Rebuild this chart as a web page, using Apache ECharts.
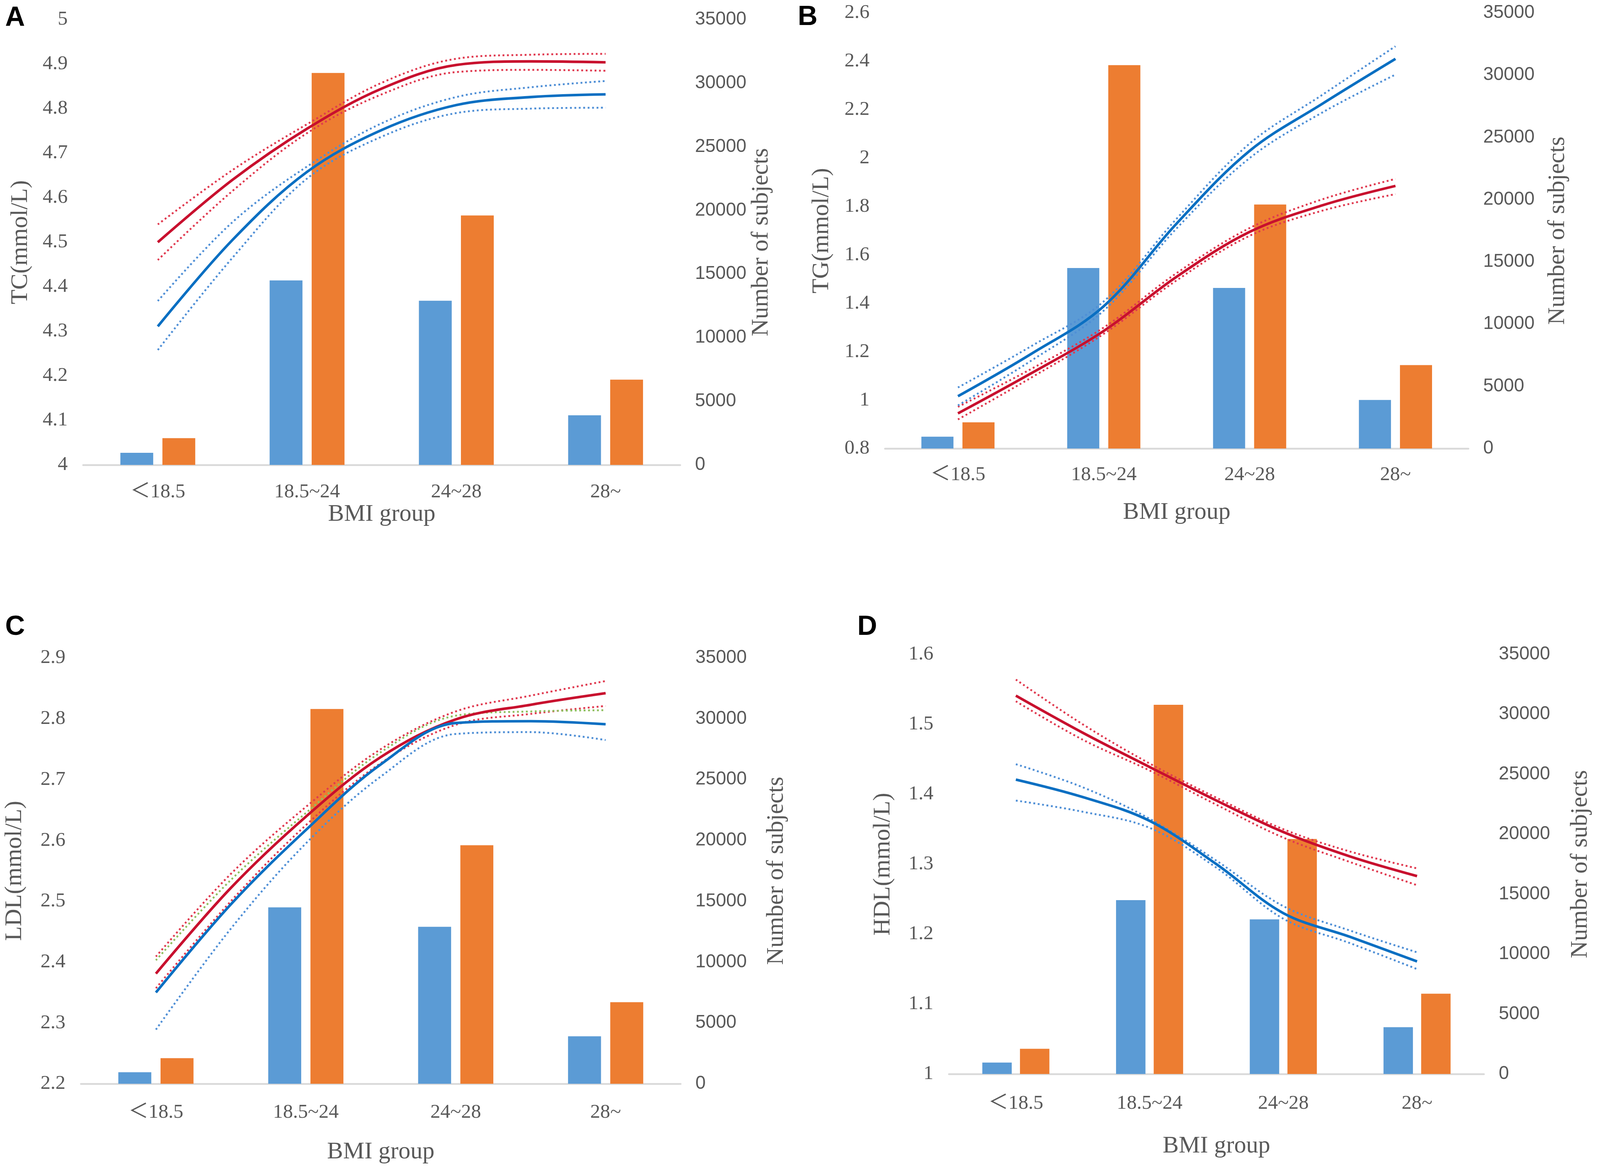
<!DOCTYPE html>
<html>
<head>
<meta charset="utf-8">
<script src="https://cdn.jsdelivr.net/npm/echarts@6/dist/echarts.min.js"></script>
<style>
html,body{margin:0;padding:0;background:#ffffff;overflow:hidden;}
#chart{width:100vw;height:100vh;}
</style>
</head>
<body>
<div id="chart"></div>
<script>
// ---------- data ----------
const categories = ['＜18.5', '18.5~24', '24~28', '28~'];
const subjectsBlue = [950, 14500, 12900, 3900];
const subjectsOrange = [2100, 30800, 19600, 6700];
const rightTicks = [0, 35000, 5000];           // min, max, interval
const curveX = [1, 1.5, 2, 2.5, 3, 3.5, 4];     // positions along BMI group axis

const tcRed        = [4.500, 4.640, 4.755, 4.845, 4.898, 4.906, 4.904];
const tcRedUpper   = [4.540, 4.662, 4.765, 4.858, 4.912, 4.921, 4.923];
const tcRedLower   = [4.460, 4.615, 4.745, 4.832, 4.882, 4.887, 4.885];
const tcBlue       = [4.311, 4.505, 4.658, 4.752, 4.808, 4.826, 4.832];
const tcBlueUpper  = [4.368, 4.545, 4.670, 4.767, 4.826, 4.848, 4.862];
const tcBlueLower  = [4.258, 4.465, 4.643, 4.737, 4.790, 4.800, 4.802];

const tgRed        = [0.945, 1.110, 1.286, 1.510, 1.695, 1.805, 1.885];
const tgRedUpper   = [0.972, 1.128, 1.300, 1.525, 1.711, 1.830, 1.914];
const tgRedLower   = [0.920, 1.092, 1.274, 1.495, 1.679, 1.783, 1.851];
const tgBlue       = [1.016, 1.190, 1.388, 1.730, 2.030, 2.225, 2.410];
const tgBlueUpper  = [1.052, 1.222, 1.408, 1.750, 2.060, 2.262, 2.462];
const tgBlueLower  = [0.978, 1.162, 1.370, 1.710, 2.000, 2.189, 2.345];

const ldlRed       = [2.381, 2.522, 2.639, 2.737, 2.799, 2.823, 2.842];
const ldlRedUpper  = [2.409, 2.545, 2.655, 2.750, 2.812, 2.838, 2.862];
const ldlRedLower  = [2.357, 2.500, 2.625, 2.727, 2.790, 2.808, 2.821];
const ldlBlue      = [2.350, 2.495, 2.617, 2.725, 2.793, 2.796, 2.791];
const ldlBlueUpper = [2.403, 2.535, 2.645, 2.745, 2.805, 2.812, 2.814];
const ldlBlueLower = [2.289, 2.455, 2.595, 2.705, 2.775, 2.778, 2.765];

const hdlRed       = [1.541, 1.488, 1.439, 1.391, 1.346, 1.311, 1.283];
const hdlRedUpper  = [1.564, 1.500, 1.444, 1.395, 1.350, 1.318, 1.294];
const hdlRedLower  = [1.533, 1.478, 1.434, 1.385, 1.338, 1.303, 1.270];
const hdlBlue      = [1.421, 1.396, 1.362, 1.300, 1.230, 1.196, 1.161];
const hdlBlueUpper = [1.443, 1.410, 1.365, 1.305, 1.240, 1.205, 1.174];
const hdlBlueLower = [1.391, 1.375, 1.352, 1.295, 1.222, 1.187, 1.150];

// ---------- styling / layout (designed for 4328 x 3005, scaled to the viewport) ----------
const el = document.getElementById('chart');
const W = el.clientWidth || 4328, H = el.clientHeight || 3005;
const sx = W / 4328, sy = H / 3005, s = Math.min(sx, sy);
const X = v => v * sx, Y = v => v * sy, F = v => v * s;

const TXT = '#595959';
const SERIF = '"Liberation Serif", "Times New Roman", "Noto Sans CJK SC", serif';
const SANS = '"Liberation Sans", Arial, sans-serif';
const C_BLUE_BAR = '#5b9bd5', C_ORANGE_BAR = '#ed7d31';
const C_RED = '#c8102e', C_RED_DOT = '#e0394f';
const C_BLUE = '#0a6fc2', C_BLUE_DOT = '#4f8fd6';
const NAME_FS = 65;

const panels = [
  { letter: 'A', lp: [14, 12], grid: [225, 50, 1615, 1140],
    yName: 'TC(mmol/L)', min: 4, max: 5, interval: 0.1, lGap: 137, rGap: 187, xGap: 92, lblMargin: 44,
    lines: [tcRed, tcRedUpper, tcRedLower, tcBlue, tcBlueUpper, tcBlueLower] },
  { letter: 'B', lp: [2158, 10], grid: [2394, 33, 1578, 1115],
    yName: 'TG(mmol/L)', min: 0.8, max: 2.6, interval: 0.2, lGap: 139, rGap: 209, xGap: 133, lblMargin: 42,
    lines: [tgRed, tgRedUpper, tgRedLower, tgBlue, tgBlueUpper, tgBlueLower] },
  { letter: 'C', lp: [14, 1571], grid: [219, 1684, 1622, 1090],
    yName: 'LDL(mmol/L)', min: 2.2, max: 2.9, interval: 0.1, lGap: 147, rGap: 227, xGap: 144, lblMargin: 48,
    lines: [ldlRed, ldlRedUpper, ldlRedLower, ldlBlue, ldlBlueUpper, ldlBlueLower], blueUpperColor: '#8fbf5f' },
  { letter: 'D', lp: [2319, 1571], grid: [2567, 1675, 1447, 1074],
    yName: 'HDL(mmol/L)', min: 1, max: 1.6, interval: 0.1, lGap: 146, rGap: 229, xGap: 154, lblMargin: 50,
    lines: [hdlRed, hdlRedUpper, hdlRedLower, hdlBlue, hdlBlueUpper, hdlBlueLower] }
];

const grid = [], xAxis = [], yAxis = [], series = [], title = [];

panels.forEach((p, i) => {
  grid.push({ left: X(p.grid[0]), top: Y(p.grid[1]), width: X(p.grid[2]), height: Y(p.grid[3]), containLabel: false });
  title.push({ text: p.letter, left: X(p.lp[0]), top: Y(p.lp[1]), padding: 0,
    textStyle: { fontFamily: SANS, fontWeight: 'bold', fontSize: F(74), color: '#000' } });

  xAxis.push({
    type: 'category', gridIndex: i, data: categories, boundaryGap: true,
    name: 'BMI group', nameLocation: 'middle', nameGap: Y(p.xGap),
    nameTextStyle: { fontFamily: SERIF, fontSize: F(NAME_FS), color: TXT },
    axisLine: { show: true, lineStyle: { color: '#d9d9d9', width: F(5) } },
    axisTick: { show: false },
    axisLabel: { fontFamily: SERIF, fontSize: F(54), color: TXT, margin: Y(p.lblMargin), interval: 0 },
    splitLine: { show: false }
  });
  xAxis.push({ type: 'value', gridIndex: i, min: 0.5, max: 4.5, show: false,
    axisLine: { show: false }, splitLine: { show: false } });

  yAxis.push({
    type: 'value', gridIndex: i, position: 'left', min: p.min, max: p.max, interval: p.interval,
    name: p.yName, nameLocation: 'middle', nameGap: X(p.lGap), nameRotate: 90,
    nameTextStyle: { fontFamily: SERIF, fontSize: F(NAME_FS), color: TXT },
    axisLine: { show: false }, axisTick: { show: false }, splitLine: { show: false },
    axisLabel: { fontFamily: SERIF, fontSize: F(54), color: TXT, margin: X(42), showMinLabel: true, showMaxLabel: true }
  });
  yAxis.push({
    type: 'value', gridIndex: i, position: 'right', min: rightTicks[0], max: rightTicks[1], interval: rightTicks[2],
    name: 'Number of subjects', nameLocation: 'middle', nameGap: X(p.rGap), nameRotate: 90,
    nameTextStyle: { fontFamily: SERIF, fontSize: F(NAME_FS), color: TXT },
    axisLine: { show: false }, axisTick: { show: false }, splitLine: { show: false },
    axisLabel: { fontFamily: SANS, fontSize: F(50), color: TXT, margin: X(40), showMinLabel: true, showMaxLabel: true,
      formatter: v => String(v) }
  });

  const xc = 2 * i, xv = 2 * i + 1, yl = 2 * i, yr = 2 * i + 1;
  series.push({ type: 'bar', xAxisIndex: xc, yAxisIndex: yr, data: subjectsBlue,
    barWidth: '22%', barGap: '28%', itemStyle: { color: C_BLUE_BAR }, z: 2, silent: true });
  series.push({ type: 'bar', xAxisIndex: xc, yAxisIndex: yr, data: subjectsOrange,
    barWidth: '22%', barGap: '28%', itemStyle: { color: C_ORANGE_BAR }, z: 2, silent: true });

  const dash = [F(5), F(7)];
  const styles = [
    { color: C_RED, width: F(7), type: 'solid' },
    { color: C_RED_DOT, width: F(5), type: dash },
    { color: C_RED_DOT, width: F(5), type: dash },
    { color: C_BLUE, width: F(7), type: 'solid' },
    { color: p.blueUpperColor || C_BLUE_DOT, width: F(5), type: dash },
    { color: C_BLUE_DOT, width: F(5), type: dash }
  ];
  const order = [1, 2, 4, 5, 0, 3];
  order.forEach(k => {
    series.push({
      type: 'line', xAxisIndex: xv, yAxisIndex: yl, smooth: 0.35, symbol: 'none', silent: true,
      data: curveX.map((x, j) => [x, p.lines[k][j]]),
      lineStyle: styles[k], z: 5
    });
  });
});

const chart = echarts.init(el, null, { renderer: 'canvas' });
chart.setOption({ animation: false, backgroundColor: '#ffffff', title, grid, xAxis, yAxis, series, tooltip: { show: false } });
</script>
</body>
</html>
